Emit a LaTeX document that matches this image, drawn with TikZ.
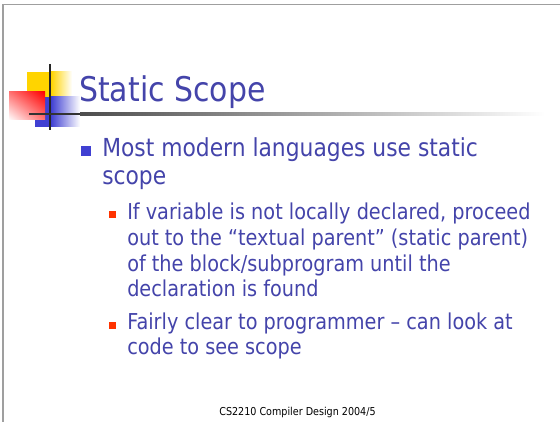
\documentclass[tikz,border=0pt]{standalone}
\usepackage{fontspec}
\setmainfont[FakeStretch=0.88]{DejaVu Sans}
\usetikzlibrary{calc,shadings}
\definecolor{slideblue}{RGB}{68,68,170}
\definecolor{bulletblue}{RGB}{64,64,210}
\definecolor{bulletred}{RGB}{255,51,0}
\definecolor{logoyellow}{RGB}{255,212,0}
\definecolor{logoblue}{RGB}{64,64,210}

\begin{document}
\begin{tikzpicture}[x=1pt,y=-1pt,line width=0.5pt,
  txt/.style={inner sep=0pt,anchor=base west,align=left,text=slideblue},
  sq/.style={inner sep=0pt,minimum size=#1,draw=none}]
  \useasboundingbox (0,0) rectangle (560,422);
  % frame
  \draw[gray!75,line width=1.5pt] (3,422) -- (3,4.5) -- (560,4.5);
  % logo
  \fill[logoyellow] (27,72) rectangle (51,97);
  \shade[left color=logoyellow,right color=white] (51,72) rectangle (72,97);
  \fill[logoblue] (35,97) rectangle (51,127);
  \shade[left color=logoblue,right color=white] (51,97) rectangle (80,127);
  \shade[upper right=red,upper left=red!55!white,lower right=red!55!white,lower left=white]
    (9,92) rectangle (45,120);
  \draw[black!85,line width=2pt] (50,64) -- (50,130);
  \draw[black!80,line width=2.5pt] (29,114) -- (80,114);
  \shade[left color=black!70,middle color=black!25,right color=white] (80,112.8) rectangle (545,115.2);
  % title
  \node[txt,font=\fontsize{34}{40}\selectfont] (title) at (79,102) {Static Scope};
  % first level (base = last line)
  \node[sq=10pt,fill=bulletblue] (b1) at (85.5,151) {};
  \node[txt,font=\fontsize{24.8}{28}\selectfont] (pt1) at (102,185)
    {Most modern languages use static\\scope};
  % second level
  \node[sq=7pt,fill=bulletred] (b2) at (112,215) {};
  \node[txt,font=\fontsize{21.9}{25.7}\selectfont] (sub1) at (127,297)
    {If variable is not locally declared, proceed\\out to the “textual parent” (static parent)\\of the block/subprogram until the\\declaration is found};
  \node[sq=7pt,fill=bulletred] (b3) at (112,325.5) {};
  \node[txt,font=\fontsize{21.9}{25.7}\selectfont] (sub2) at (127,355)
    {Fairly clear to programmer – can look at\\code to see scope};
  % footer
  \node[inner sep=0pt,anchor=base,font=\fontsize{10.9}{13}\selectfont] (foot) at (297.5,415)
    {CS2210 Compiler Design 2004/5};
\end{tikzpicture}
\end{document}
